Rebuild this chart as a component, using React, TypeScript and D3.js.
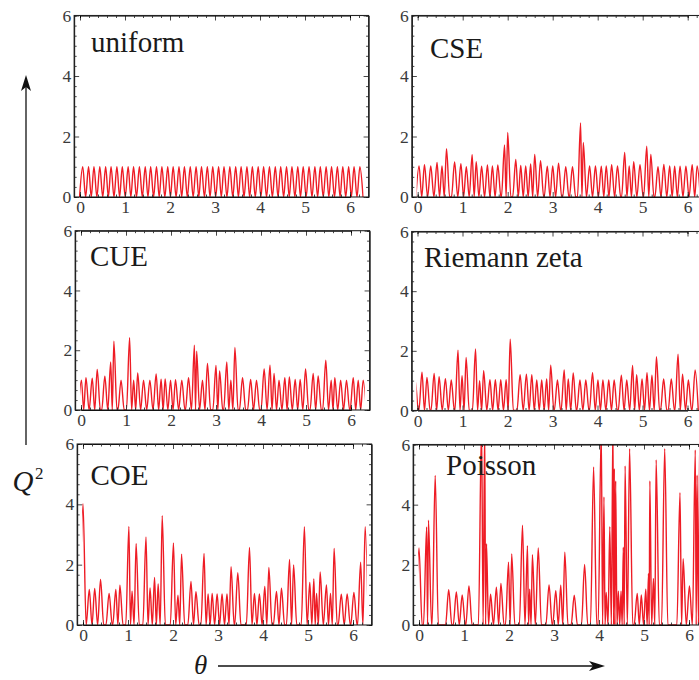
import React, { useEffect, useRef } from "react";
import * as d3 from "d3";

// peak positions (theta) and peak heights (Q^2)
const uniformTheta = [
  0.06, 0.19, 0.31, 0.44, 0.57, 0.69, 0.82, 0.94, 1.07, 1.19, 1.32, 1.45, 1.57, 1.7, 1.82, 1.95, 2.07,
  2.2, 2.32, 2.45, 2.58, 2.7, 2.83, 2.95, 3.08, 3.2, 3.33, 3.46, 3.58, 3.71, 3.83, 3.96, 4.08, 4.21,
  4.34, 4.46, 4.59, 4.71, 4.84, 4.96, 5.09, 5.22, 5.34, 5.47, 5.59, 5.72, 5.84, 5.97, 6.09, 6.22,
];
const uniformQ2 = [
  1, 1, 1, 1, 1, 1, 1, 1, 1, 1, 1, 1, 1, 1, 1, 1, 1, 1, 1, 1, 1, 1, 1, 1, 1,
  1, 1, 1, 1, 1, 1, 1, 1, 1, 1, 1, 1, 1, 1, 1, 1, 1, 1, 1, 1, 1, 1, 1, 1, 1,
];

const cseTheta = [
  0.03, 0.15, 0.29, 0.43, 0.54, 0.64, 0.82, 0.96, 1.08, 1.21, 1.3, 1.42, 1.55, 1.66, 1.78, 1.93, 2.0,
  2.18, 2.29, 2.4, 2.51, 2.6, 2.73, 2.88, 3.0, 3.13, 3.29, 3.44, 3.62, 3.68, 3.82, 3.95, 4.08, 4.19,
  4.31, 4.44, 4.6, 4.7, 4.8, 4.94, 5.09, 5.18, 5.34, 5.47, 5.6, 5.71, 5.83, 5.96, 6.1, 6.21,
];
const cseQ2 = [
  1.03, 1.07, 1.03, 1.14, 1.03, 1.6, 1.16, 1.1, 1.0, 1.4, 1.17, 1.02, 1.06, 1.03, 1.06, 1.72, 2.13,
  1.24, 1.04, 1.03, 1.09, 1.41, 1.2, 1.02, 1.03, 1.12, 1.0, 1.0, 2.45, 1.8, 1.03, 1.03, 1.02, 1.03,
  1.07, 1.03, 1.47, 1.03, 1.17, 1.07, 1.68, 1.41, 1.0, 1.08, 1.03, 1.02, 1.02, 1.02, 1.07, 1.03,
];

const cueTheta = [
  0.01, 0.11, 0.25, 0.36, 0.53, 0.66, 0.73, 0.89, 1.08, 1.17, 1.26, 1.39, 1.53, 1.67, 1.78, 1.87, 1.99,
  2.1, 2.24, 2.39, 2.52, 2.57, 2.7, 2.81, 3.0, 3.08, 3.24, 3.33, 3.42, 3.59, 3.77, 3.9, 4.07, 4.2,
  4.29, 4.4, 4.53, 4.63, 4.76, 4.87, 4.99, 5.16, 5.27, 5.44, 5.56, 5.64, 5.77, 5.9, 6.05, 6.16, 6.27,
];
const cueQ2 = [
  1.0, 1.08, 1.06, 1.36, 1.13, 1.61, 2.3, 1.0, 2.42, 1.0, 1.24, 1.0, 1.0, 1.21, 1.03, 1.04, 1.0,
  1.01, 1.0, 1.08, 2.17, 1.97, 1.0, 1.56, 1.49, 1.31, 1.61, 1.0, 2.09, 1.08, 1.02, 1.0, 1.37, 1.5,
  1.22, 1.0, 1.08, 1.11, 1.02, 1.02, 1.37, 1.22, 1.14, 1.67, 1.0, 1.08, 1.0, 1.0, 1.08, 1.0, 1.0,
];

const zetaTheta = [
  -0.05, 0.1, 0.21, 0.37, 0.48, 0.62, 0.75, 0.9, 0.99, 1.08, 1.29, 1.38, 1.47, 1.61, 1.73, 1.85, 1.97,
  2.06, 2.28, 2.42, 2.54, 2.65, 2.76, 2.87, 2.96, 3.11, 3.26, 3.35, 3.46, 3.61, 3.74, 3.89, 4.01, 4.12,
  4.25, 4.37, 4.53, 4.65, 4.78, 4.87, 4.99, 5.1, 5.21, 5.31, 5.47, 5.64, 5.79, 5.89, 6.02, 6.17,
];
const zetaQ2 = [
  1.0, 1.28, 1.11, 1.24, 1.13, 1.07, 1.02, 2.02, 1.17, 1.78, 2.06, 1.0, 1.33, 1.03, 1.03, 1.03, 1.03,
  2.39, 1.2, 1.22, 1.2, 1.02, 1.02, 1.06, 1.52, 1.02, 1.36, 1.06, 1.26, 1.02, 1.02, 1.27, 1.02, 1.02,
  1.02, 1.02, 1.18, 1.02, 1.51, 1.2, 1.06, 1.27, 1.18, 1.8, 1.06, 1.06, 1.89, 1.22, 1.02, 1.36,
];

const coeTheta = [
  0.0, 0.14, 0.26, 0.39, 0.58, 0.73, 0.82, 1.02, 1.09, 1.18, 1.4, 1.49, 1.59, 1.67, 1.76, 2.01, 2.11,
  2.19, 2.4, 2.51, 2.69, 2.78, 2.87, 2.98, 3.09, 3.2, 3.29, 3.44, 3.7, 3.81, 3.92, 4.04, 4.13, 4.3,
  4.41, 4.59, 4.68, 4.92, 5.04, 5.13, 5.19, 5.27, 5.41, 5.5, 5.58, 5.74, 5.87, 6.02, 6.17, 6.27,
];
const coeQ2 = [
  4.02, 1.18, 1.21, 1.51, 1.05, 1.18, 1.32, 3.27, 1.12, 2.7, 2.92, 1.23, 1.58, 1.36, 3.62, 2.72, 0.99,
  2.35, 1.44, 1.1, 2.37, 1.03, 1.05, 1.03, 1.03, 1.03, 1.93, 1.73, 2.57, 1.05, 1.03, 1.28, 1.91, 1.11,
  1.22, 2.17, 1.99, 3.26, 1.41, 1.53, 1.05, 1.76, 1.33, 1.05, 2.54, 1.02, 1.03, 1.08, 2.08, 3.26,
];

const poissonTheta = [
  0.0, 0.17, 0.21, 0.36, 0.66, 0.83, 0.96, 1.11, 1.39, 1.46, 1.5, 1.59, 1.72, 1.82, 1.99, 2.06, 2.3,
  2.41, 2.46, 2.52, 2.65, 2.89, 3.04, 3.15, 3.24, 3.45, 3.68, 3.88, 4.05, 4.11, 4.16, 4.24, 4.31, 4.34,
  4.37, 4.43, 4.49, 4.54, 4.58, 4.68, 4.85, 4.94, 5.04, 5.1, 5.13, 5.21, 5.27, 5.46, 5.8, 5.87, 6.01,
  6.14, 6.18, 6.24,
];
const poissonQ2 = [
  2.56, 3.26, 3.48, 4.97, 1.17, 1.1, 1.0, 1.3, 6.6, 6.6, 2.7, 1.02, 1.26, 1.38, 2.09, 2.36, 3.32,
  2.64, 1.19, 2.34, 2.56, 1.33, 1.14, 1.32, 2.42, 0.99, 2.01, 5.25, 6.5, 4.26, 1.08, 3.27, 6.8, 5.2,
  4.79, 1.12, 1.12, 2.59, 5.29, 5.86, 1.05, 1.0, 1.19, 1.71, 4.79, 1.55, 5.49, 5.86, 4.4, 2.2, 1.3,
  5.82, 4.98, 6.5,
];

const xMajor = [0, 1, 2, 3, 4, 5, 6];
const yMajor = [0, 2, 4, 6];

const RED = "#ee1c25";
const SERIF = "'Liberation Serif', 'Times New Roman', serif";
const TWO_PI = 2 * Math.PI;
const UNIT = 45; // px per radian
const HALF_WIDTH = 0.07; // half base width of one peak, in theta

const panels = [
  { name: "uniform", theta: uniformTheta, q2: uniformQ2, x0: 80, top: 15.5, bottom: 197, lx: 91, ly: 52 },
  { name: "CSE", theta: cseTheta, q2: cseQ2, x0: 417.7, top: 15.5, bottom: 197, lx: 430, ly: 57.5 },
  { name: "CUE", theta: cueTheta, q2: cueQ2, x0: 81, top: 230.7, bottom: 410, lx: 90, ly: 266 },
  { name: "Riemann zeta", theta: zetaTheta, q2: zetaQ2, x0: 417.5, top: 231.5, bottom: 410.5, lx: 424, ly: 266.5 },
  { name: "COE", theta: coeTheta, q2: coeQ2, x0: 83, top: 444, bottom: 625, lx: 90.5, ly: 485 },
  { name: "Poisson", theta: poissonTheta, q2: poissonQ2, x0: 419, top: 444.5, bottom: 625, lx: 446, ly: 475 },
];

// each peak drops back to zero half way to its neighbours (or after HALF_WIDTH)
function peakPoints(theta: number[], q2: number[]) {
  const pts: [number, number][] = [];
  theta.forEach((t, i) => {
    const prev = i > 0 ? theta[i - 1] : -Infinity;
    const next = i < theta.length - 1 ? theta[i + 1] : Infinity;
    const l = Math.max(t - HALF_WIDTH, (prev + t) / 2);
    const r = Math.min(t + HALF_WIDTH, (t + next) / 2);
    if (!pts.length || pts[pts.length - 1][0] < l - 1e-9) pts.push([l, 0]);
    pts.push([t, q2[i]]);
    pts.push([r, 0]);
  });
  return pts;
}

export default function App() {
  const ref = useRef<SVGSVGElement>(null);

  useEffect(() => {
    const svg = d3.select(ref.current);
    svg.selectAll("*").remove();

    panels.forEach((p, i) => {
      const x = d3.scaleLinear().domain([0, 6]).range([p.x0, p.x0 + 6 * UNIT]);
      const y = d3.scaleLinear().domain([0, 6]).range([p.bottom, p.top]);
      const left = x(-0.13);
      const right = x(TWO_PI + 0.13);
      const g = svg.append("g");

      const clipId = `clip-${i}`;
      g.append("clipPath")
        .attr("id", clipId)
        .append("rect")
        .attr("x", x(0) - 1)
        .attr("y", y(6))
        .attr("width", x(TWO_PI) - x(0) + 2)
        .attr("height", y(0) - y(6));

      const line = d3
        .line<[number, number]>()
        .x((d) => x(d[0]))
        .y((d) => y(d[1]))
        .curve(d3.curveMonotoneX);

      g.append("path")
        .datum(peakPoints(p.theta, p.q2))
        .attr("clip-path", `url(#${clipId})`)
        .attr("d", line)
        .attr("fill", "none")
        .attr("stroke", RED)
        .attr("stroke-width", 1.4)
        .attr("stroke-linejoin", "round");

      // frame with inward ticks on all four sides
      const xMinor = d3.range(0, 6.41, 0.2).filter((v) => Math.abs(v - Math.round(v)) > 0.01);
      const yMinor = d3.range(0, 6.01, 1 / 3).filter((v) => Math.abs(v / 2 - Math.round(v / 2)) > 0.01);

      const styleAxis = (a: d3.Selection<SVGGElement, unknown, null, undefined>) => {
        a.select(".domain").remove();
        a.selectAll("line").attr("stroke", "#333").attr("stroke-width", 0.9);
        a.selectAll("text")
          .attr("font-family", SERIF)
          .attr("font-size", 17.5)
          .attr("fill", "#3a3a3a");
      };

      const bottomAxis = g.append("g").attr("transform", `translate(0,${y(0)})`);
      bottomAxis.call(d3.axisBottom(x).tickValues(xMajor).tickSize(-5).tickPadding(4).tickFormat(d3.format("d")));
      bottomAxis.append("g").call(d3.axisBottom(x).tickValues(xMinor).tickSize(-2.5).tickFormat(() => ""));
      styleAxis(bottomAxis);

      const topAxis = g.append("g").attr("transform", `translate(0,${y(6)})`);
      topAxis.call(d3.axisTop(x).tickValues(xMajor).tickSize(-5).tickFormat(() => ""));
      topAxis.append("g").call(d3.axisTop(x).tickValues(xMinor).tickSize(-2.5).tickFormat(() => ""));
      styleAxis(topAxis);

      const leftAxis = g.append("g").attr("transform", `translate(${left},0)`);
      leftAxis.call(d3.axisLeft(y).tickValues(yMajor).tickSize(-5).tickPadding(3).tickFormat(d3.format("d")));
      leftAxis.append("g").call(d3.axisLeft(y).tickValues(yMinor).tickSize(-2.5).tickFormat(() => ""));
      styleAxis(leftAxis);

      const rightAxis = g.append("g").attr("transform", `translate(${right},0)`);
      rightAxis.call(d3.axisRight(y).tickValues(yMajor).tickSize(-5).tickFormat(() => ""));
      rightAxis.append("g").call(d3.axisRight(y).tickValues(yMinor).tickSize(-2.5).tickFormat(() => ""));
      styleAxis(rightAxis);

      g.append("rect")
        .attr("x", left)
        .attr("y", y(6))
        .attr("width", right - left)
        .attr("height", y(0) - y(6))
        .attr("fill", "none")
        .attr("stroke", "#222")
        .attr("stroke-width", 1.1);

      g.append("text")
        .attr("x", p.lx)
        .attr("y", p.ly)
        .attr("font-family", SERIF)
        .attr("font-size", 29)
        .attr("fill", "#1a1a1a")
        .text(p.name);
    });

    // axis titles with arrows
    svg.append("line").attr("x1", 26).attr("y1", 445).attr("x2", 26).attr("y2", 84).attr("stroke", "#111").attr("stroke-width", 1.3);
    svg.append("path").attr("d", "M26,75 L31,91 L26,87 L21,91 Z").attr("fill", "#111");
    svg.append("line").attr("x1", 218).attr("y1", 666).attr("x2", 597).attr("y2", 666).attr("stroke", "#111").attr("stroke-width", 1.3);
    svg.append("path").attr("d", "M605,666 L589,661 L593,666 L589,671 Z").attr("fill", "#111");

    svg.append("text")
      .attr("x", 12.5)
      .attr("y", 491)
      .attr("font-family", SERIF)
      .attr("font-style", "italic")
      .attr("font-size", 29)
      .attr("fill", "#1a1a1a")
      .text("Q");
    svg.append("text")
      .attr("x", 35)
      .attr("y", 479)
      .attr("font-family", SERIF)
      .attr("font-size", 17)
      .attr("fill", "#1a1a1a")
      .text("2");
    svg.append("text")
      .attr("x", 194)
      .attr("y", 674)
      .attr("font-family", SERIF)
      .attr("font-style", "italic")
      .attr("font-size", 27)
      .attr("fill", "#1a1a1a")
      .text("θ");
  }, []);

  return (
    <div style={{ position: "absolute", left: 0, top: 0 }}>
      <svg ref={ref} width={699} height={680} style={{ display: "block", background: "#fff" }} />
    </div>
  );
}
